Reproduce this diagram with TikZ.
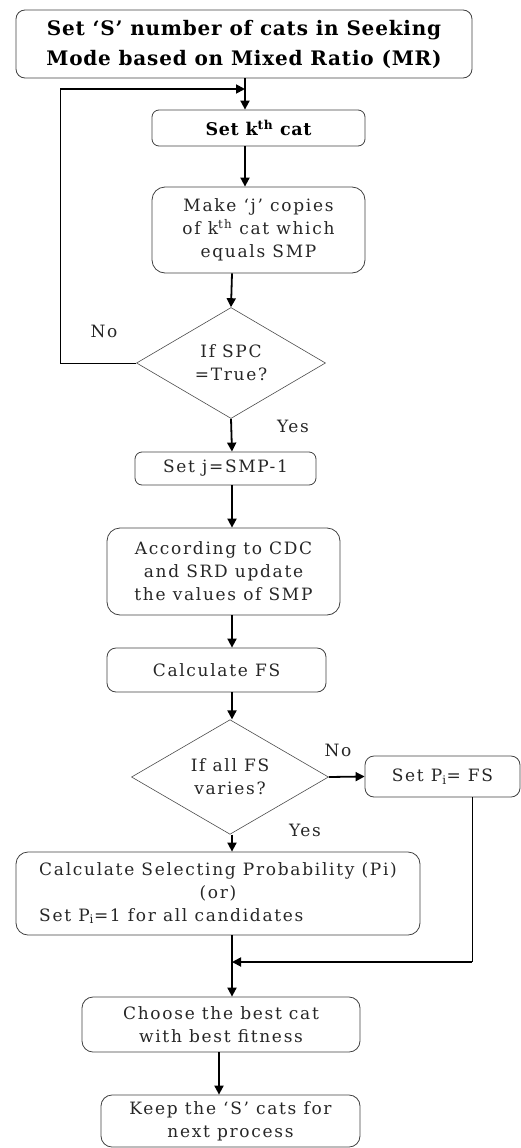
\documentclass[tikz,border=0pt]{standalone}
\usepackage{fontspec}
\setmainfont{DejaVu Serif}
\newfontfamily\bodyfont{DejaVu Serif}[LetterSpace=10]
\newfontfamily\headfont{DejaVu Serif}[LetterSpace=4]
\usetikzlibrary{shapes.geometric,arrows.meta}
\begin{document}
\begin{tikzpicture}[x=1pt,y=-1pt,
  box/.style={draw=black!75, line width=0.8pt, rounded corners=9pt, inner sep=0pt, align=center,
    text=black!85, font=\bodyfont\fontsize{17}{23}\selectfont},
  boldbox/.style={box, text=black, font=\headfont\fontsize{20}{30}\selectfont\bfseries},
  decision/.style={draw=black!70, line width=0.6pt, shape=diamond, inner sep=0pt, align=center,
    text=black!85, font=\bodyfont\fontsize{17}{23}\selectfont},
  flow/.style={line width=1.8pt, -{Triangle[length=9pt,width=9pt]}},
  thin/.style={line width=0.9pt},
  lbl/.style={text=black!85, font=\bodyfont\fontsize{17}{20}\selectfont, inner sep=0pt}]
\useasboundingbox (0,0) rectangle (521,1148);

% process boxes
\node[boldbox, minimum width=456, minimum height=68] (b1) at (244,44)
  {Set ‘S’ number of cats in Seeking\\Mode based on Mixed Ratio (MR)};
\node[boldbox, minimum width=213, minimum height=36, rounded corners=7pt,
  font=\headfont\fontsize{17.5}{24}\selectfont\bfseries] (b2) at (258.5,128)
  {Set k\textsuperscript{th} cat};
\node[box, minimum width=213, minimum height=86, rounded corners=13pt] (b3) at (258.5,230)
  {Make ‘j’ copies\\of k\textsuperscript{th} cat which\\equals SMP};
\node[decision, minimum width=189, minimum height=111] (d1) at (231,363)
  {If SPC\\=True?};
\node[box, minimum width=181, minimum height=33, rounded corners=7pt] (b4) at (225.5,468.5)
  {Set j=SMP-1};
\node[box, minimum width=233, minimum height=87, rounded corners=13pt] (b5) at (223.5,571.5)
  {According to CDC\\and SRD update\\the values of SMP};
\node[box, minimum width=219, minimum height=44] (b6) at (216.5,670)
  {Calculate FS};
\node[decision, minimum width=197, minimum height=107] (d2) at (230,777)
  {If all FS\\varies?};
\node[box, minimum width=155, minimum height=41] (b7) at (442.5,776.5)
  {Set P\textsubscript{i}= FS};
\node[box, minimum width=404, minimum height=83, rounded corners=12pt] (b8) at (218,893.5)
  {\begin{tabular}{@{}l@{}}Calculate Selecting Probability (Pi)\\
   \multicolumn{1}{@{}c@{}}{(or)}\\Set P\textsubscript{i}=1 for all candidates\end{tabular}};
\node[box, minimum width=278, minimum height=55, rounded corners=11pt] (b9) at (221,1024.5)
  {Choose the best cat\\with best fitness};
\node[box, minimum width=259, minimum height=52, rounded corners=11pt] (b10) at (230.5,1121)
  {Keep the ‘S’ cats for\\next process};

% branch labels
\node[lbl] (no1) at (104,331) {No};
\node[lbl] (yes1) at (293,426) {Yes};
\node[lbl] (no2) at (338,750) {No};
\node[lbl] (yes2) at (305,830) {Yes};

% columns the connectors run in
\coordinate (xa) at (245,0);
\coordinate (xb) at (232,0);
\coordinate (xc) at (219,0);
\coordinate (loopL) at (60,363);
\coordinate (loopT) at (60,89);
\coordinate (retR) at (472,962);

% connectors
\draw[flow] (b1.south -| xa) -- (b2.north -| xa);
\draw[flow] (b2.south -| xa) -- (b3.north -| xa);
\draw[flow] (b3.south -| xb) -- (d1.north);
\draw[thin] (d1.west) -- (loopL) -- (loopT);
\draw[flow] (loopT) -- (loopT -| xa);
\draw[flow] (d1.south) -- (b4.north -| xb);
\draw[flow] (b4.south -| xb) -- (b5.north -| xb);
\draw[flow] (b5.south -| xb) -- (b6.north -| xb);
\draw[flow] (b6.south -| xb) -- (d2.north -| xb);
\draw[flow] (d2.east) -- (b7.west);
\draw[flow] (d2.south -| xb) -- (b8.north -| xb);
\draw[thin] (b7.south -| retR) -- (retR);
\draw[flow] (retR) -- (retR -| xb);
\draw[flow] (b8.south -| xb) -- (b9.north -| xb);
\draw[flow] (b9.south -| xc) -- (b10.north -| xc);
\end{tikzpicture}
\end{document}
